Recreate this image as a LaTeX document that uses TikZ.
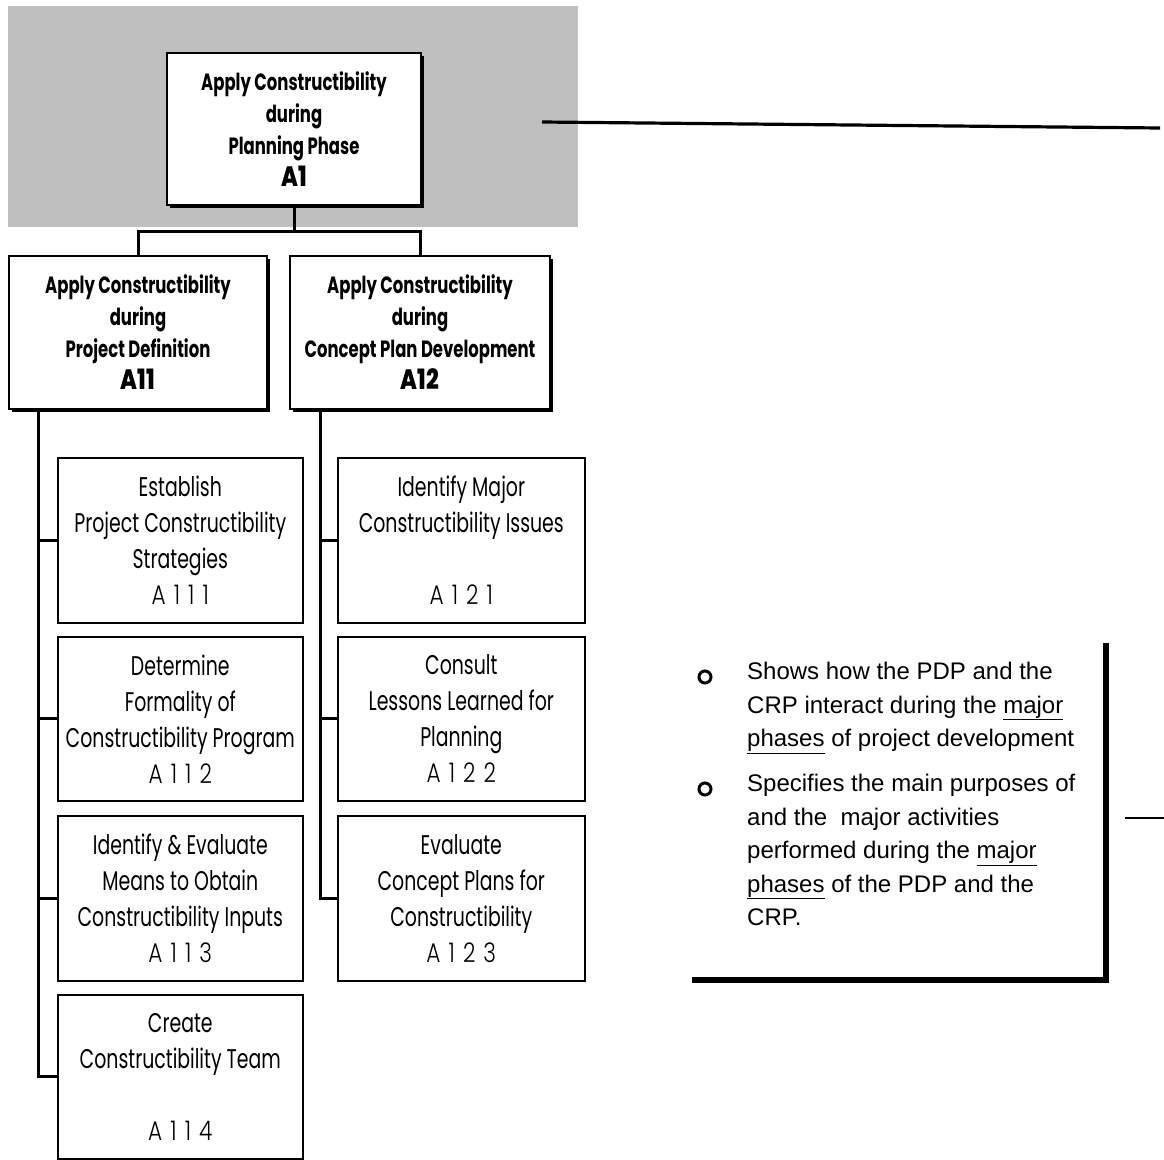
\documentclass[tikz,border=0pt]{standalone}
\usepackage{fontspec}
\setmainfont{Liberation Sans}
\newfontfamily\gothic[FakeStretch=0.70]{Poppins}
\newfontfamily\gothicbold[FakeStretch=0.70]{Poppins Bold}
\newfontfamily\blockid[FakeStretch=0.8]{Poppins ExtraBold}
\newfontfamily\idfont[FakeStretch=0.8,LetterSpace=30]{Poppins Light}
\begin{document}
\begin{tikzpicture}[x=1pt,y=-1pt,
  headbox/.style={draw,line width=2pt,fill=white,anchor=north west,inner sep=0pt,
    align=center,font=\gothicbold\fontsize{23.5}{32}\selectfont},
  taskbox/.style={draw,line width=1.6pt,fill=white,anchor=north west,inner sep=0pt,
    align=center,font=\gothic\fontsize{27}{36}\selectfont},
  link/.style={line width=3pt},
  heavy/.style={line width=6.5pt},
  noteline/.style={font=\fontsize{24}{33.5}\selectfont,anchor=north west,inner sep=0pt,align=left},
  ring/.style={draw,circle,line width=3pt,minimum size=12pt,inner sep=0pt}
]
\useasboundingbox (0,0) rectangle (1164,1159);
\fill[white] (0,0) rectangle (1164,1159);

% shaded planning-phase band
\fill[black!25] (8,6) rectangle (578,227);

% planning phase box with drop shadow
\fill[black] (170,56) rectangle (424,208);
\node[headbox,minimum width=254pt,minimum height=152pt] (a1) at (166,52)
  {Apply Constructibility\\during\\Planning Phase\\{\blockid\fontsize{28}{34}\selectfont A1}};

% second-level boxes
\fill[black] (12,259) rectangle (270,412);
\node[headbox,minimum width=258pt,minimum height=153pt] (a11) at (8,255)
  {Apply Constructibility\\during\\Project Definition\\{\blockid\fontsize{28}{34}\selectfont A11}};
\fill[black] (293,259) rectangle (553,412);
\node[headbox,minimum width=260pt,minimum height=153pt] (a12) at (289,255)
  {Apply Constructibility\\during\\Concept Plan Development\\{\blockid\fontsize{28}{34}\selectfont A12}};

% activity boxes, project definition
\node[taskbox,minimum width=245pt,minimum height=165pt] (a111) at (57,457)
  {Establish\\Project Constructibility\\Strategies\\{\idfont A111}};
\node[taskbox,minimum width=245pt,minimum height=164pt] (a112) at (57,636)
  {Determine\\Formality of\\Constructibility Program\\{\idfont A112}};
\node[taskbox,minimum width=245pt,minimum height=165pt] (a113) at (57,815)
  {Identify \& Evaluate\\Means to Obtain\\Constructibility Inputs\\{\idfont A113}};
\node[taskbox,minimum width=245pt,minimum height=164pt] (a114) at (57,994)
  {Create\\Constructibility Team\\\mbox{}\\{\idfont A114}};

% activity boxes, concept plan development
\node[taskbox,minimum width=247pt,minimum height=165pt] (a121) at (337,457)
  {Identify Major\\Constructibility Issues\\\mbox{}\\{\idfont A121}};
\node[taskbox,minimum width=247pt,minimum height=164pt] (a122) at (337,636)
  {Consult\\Lessons Learned for\\Planning\\{\idfont A122}};
\node[taskbox,minimum width=247pt,minimum height=165pt] (a123) at (337,815)
  {Evaluate\\Concept Plans for\\Constructibility\\{\idfont A123}};

% tree connectors
\coordinate (fork) at (294,231);
\draw[link] (a1.south) -- (fork);
\draw[link] (fork) -| (a11.north);
\draw[link] (fork) -| (a12.north);
\coordinate (spineL) at (38,408);
\coordinate (spineR) at (320,408);
\foreach \n in {a111,a112,a113,a114} \draw[link] (spineL) |- (\n.west);
\foreach \n in {a121,a122,a123} \draw[link] (spineR) |- (\n.west);

% line leaving the planning band
\coordinate (outA) at (542,122);
\coordinate (outB) at (1160,128);
\draw[line width=3.2pt] (outA) -- (outB);

% note panel
\node[ring] (b1) at (705,677) {};
\node[ring] (b2) at (705,789) {};
\node[noteline] (n1) at (747,662)
  {Shows how the PDP and the\\CRP interact during the \underline{major}\\\underline{phases} of project development};
\node[noteline] (n2) at (747,774)
  {Specifies the main purposes of\\and the\ \ major activities\\performed during the \underline{major}\\\underline{phases} of the PDP and the\\CRP.};
\coordinate (panelTR) at (1106,643);
\coordinate (panelBR) at (1106,983);
\coordinate (panelBL) at (692,980);
\draw[heavy] (panelTR) -- (panelBR);
\draw[heavy] (panelBL) -- (1109,980);
\coordinate (tickA) at (1125,818);
\coordinate (tickB) at (1164,818);
\draw[line width=2.4pt] (tickA) -- (tickB);
\end{tikzpicture}
\end{document}
